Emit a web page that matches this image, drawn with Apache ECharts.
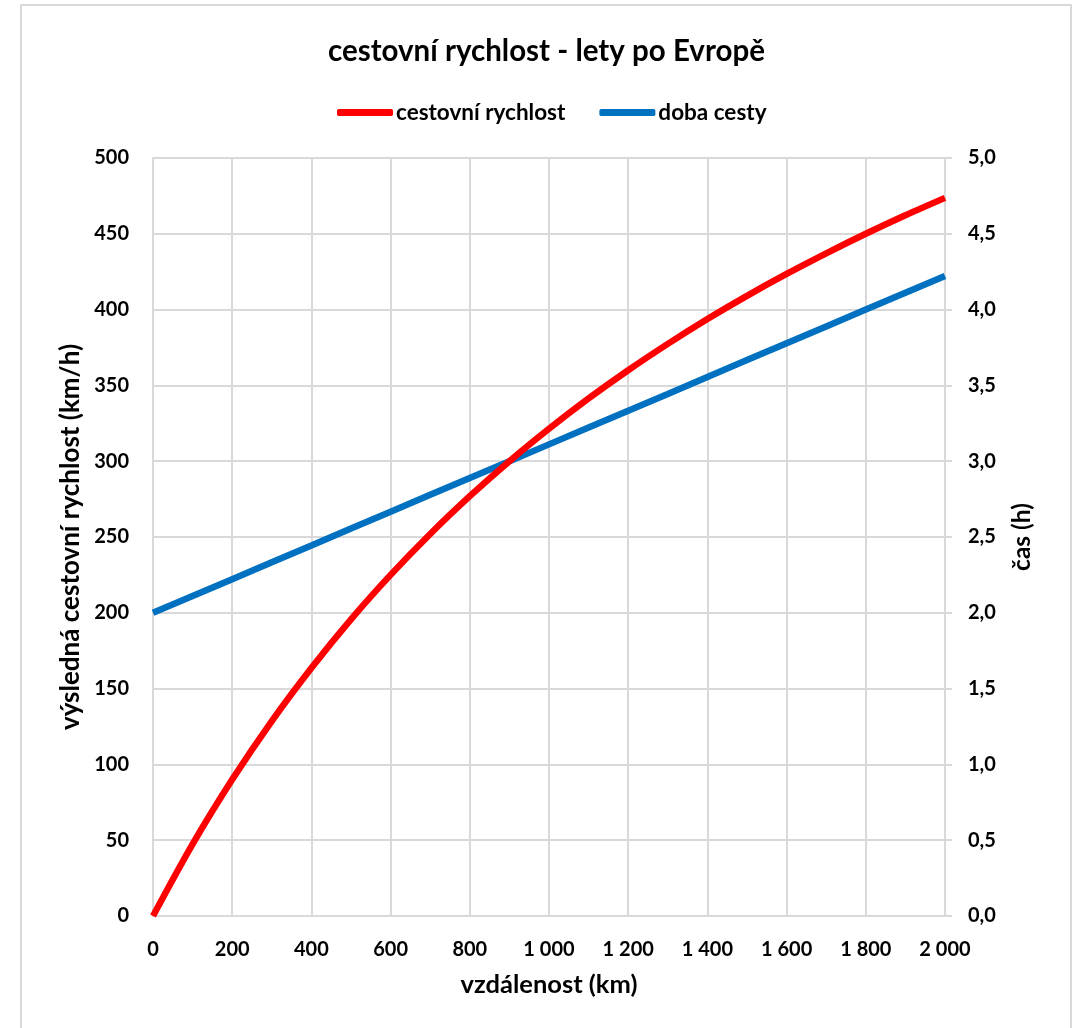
<!DOCTYPE html>
<html>
<head>
<meta charset="utf-8">
<script src="https://cdn.jsdelivr.net/npm/echarts@6/dist/echarts.min.js"></script>
<style>
html,body{margin:0;padding:0;background:#fff;}
#chart{width:1077px;height:1028px;}
</style>
</head>
<body>
<div id="chart"></div>
<script>
var distances = [0,100,200,300,400,500,600,700,800,900,1000,1100,1200,1300,1400,1500,1600,1700,1800,1900,2000];
var speedValues = [0,47.4,90,128.6,163.6,195.7,225,252,276.9,300,321.4,341.4,360,377.4,393.8,409.1,423.5,437.1,450,462.2,473.7];
var timeValues = [2.0,2.111,2.222,2.333,2.444,2.556,2.667,2.778,2.889,3.0,3.111,3.222,3.333,3.444,3.556,3.667,3.778,3.889,4.0,4.111,4.222];
var titleText = 'cestovní rychlost - lety po Evropě';
var seriesNames = ['cestovní rychlost', 'doba cesty'];
var xName = 'vzdálenost (km)';
var yLeftName = 'výsledná cestovní rychlost (km/h)';
var yRightName = 'čas (h)';

var FONT = 'Lato, "Noto Sans", sans-serif';
var chart = echarts.init(document.getElementById('chart'), null, {renderer:'canvas'});
function pair(xs, ys){ return xs.map(function(x,i){ return [x, ys[i]]; }); }
var gridColor = '#D9D9D9';
chart.setOption({
  animation:false,
  backgroundColor:'#fff',
  title:{ text:titleText, left:323, top:31, textStyle:{fontFamily:FONT, fontWeight:'bold', fontSize:29.5, color:'#000'} },
  legend:{
    top:96, left:332, itemWidth:56, itemHeight:7, itemGap:34, icon:'roundRect',
    textStyle:{fontFamily:FONT, fontWeight:'bold', fontSize:22.5, color:'#000', padding:[0,0,0,-2]},
    data:seriesNames
  },
  grid:{ left:153, right:132, top:158, bottom:112, containLabel:false },
  xAxis:{
    type:'value', min:0, max:2000, interval:200,
    name:xName, nameLocation:'middle', nameGap:56,
    nameTextStyle:{fontFamily:FONT, fontWeight:'bold', fontSize:25.5, color:'#000'},
    axisLine:{show:true, lineStyle:{color:gridColor, width:2}},
    axisTick:{show:false},
    splitLine:{show:true, lineStyle:{color:gridColor, width:2}},
    axisLabel:{ margin:24, fontFamily:FONT, fontWeight:'bold', fontSize:20, color:'#000',
      formatter:function(v){ return String(v).replace(/\B(?=(\d{3})+(?!\d))/g, ' '); } }
  },
  yAxis:[
    { type:'value', min:0, max:500, interval:50, position:'left',
      name:yLeftName, nameLocation:'middle', nameGap:68, nameRotate:90,
      nameTextStyle:{fontFamily:FONT, fontWeight:'bold', fontSize:26, color:'#000'},
      axisLine:{show:true, lineStyle:{color:gridColor, width:2}},
      axisTick:{show:false},
      splitLine:{show:true, lineStyle:{color:gridColor, width:2}},
      axisLabel:{ margin:24, fontFamily:FONT, fontWeight:'bold', fontSize:20, color:'#000' }
    },
    { type:'value', min:0, max:5, interval:0.5, position:'right',
      name:yRightName, nameLocation:'middle', nameGap:65, nameRotate:90,
      nameTextStyle:{fontFamily:FONT, fontWeight:'bold', fontSize:24.5, color:'#000'},
      axisLine:{show:true, lineStyle:{color:gridColor, width:2}},
      axisTick:{show:true, length:7, lineStyle:{color:gridColor, width:2}},
      splitLine:{show:false},
      axisLabel:{ margin:23, fontFamily:FONT, fontWeight:'bold', fontSize:20, color:'#000',
        formatter:function(v){ return v.toFixed(1).replace('.', ','); } }
    }
  ],
  graphic:[{ type:'rect', shape:{x:21, y:5, width:1050, height:1040}, style:{fill:'none', stroke:gridColor, lineWidth:2}, silent:true, z:-1 }],
  series:[
    { name:seriesNames[0], type:'line', yAxisIndex:0, data:pair(distances, speedValues), smooth:0.3,
      showSymbol:false, symbol:'none', lineStyle:{color:'#FF0000', width:6.5}, itemStyle:{color:'#FF0000'}, z:3 },
    { name:seriesNames[1], type:'line', yAxisIndex:1, data:pair(distances, timeValues), smooth:false,
      showSymbol:false, symbol:'none', lineStyle:{color:'#0070C0', width:6.5}, itemStyle:{color:'#0070C0'}, z:2 }
  ]
});
</script>
</body>
</html>
